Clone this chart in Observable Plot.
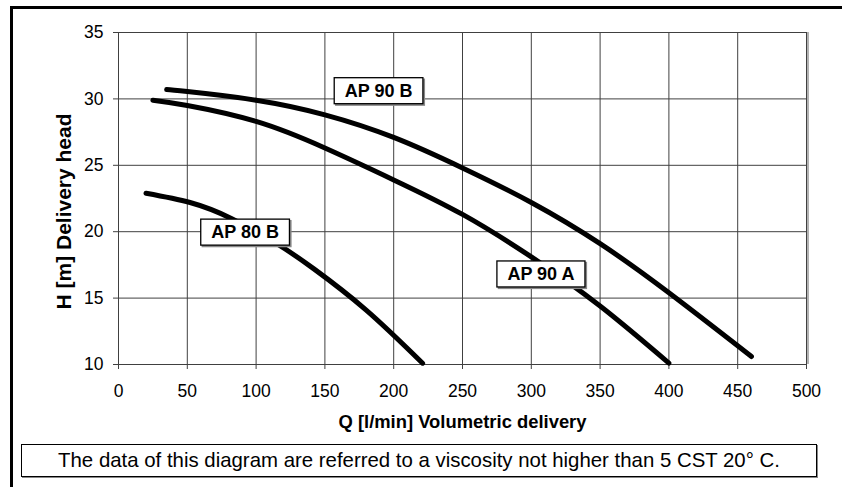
<!DOCTYPE html>
<html><head><meta charset="utf-8">
<script src="https://cdn.jsdelivr.net/npm/d3@7"></script>
<script src="https://cdn.jsdelivr.net/npm/@observablehq/plot@0.6"></script>
<style>
body{margin:0;background:#fff;font-family:"Liberation Sans",Arial,sans-serif;overflow:hidden;}
#chart{position:absolute;left:0;top:0;}
#frame{position:absolute;left:10px;top:6px;width:900px;height:600px;border-left:3px solid #000;border-top:3px solid #000;pointer-events:none;}
#caption{position:absolute;left:21px;top:444px;width:794px;height:31px;border:1px solid #000;box-shadow:1px 1px 0 #888;font-size:20.4px;text-align:center;line-height:31px;color:#000;background:#fff;white-space:nowrap;}
</style></head><body>
<div id="chart"></div>
<div id="frame"></div>
<div id="caption">The data of this diagram are referred to a viscosity not higher than 5 CST 20° C.</div>
<script>
// Series: Q [l/min] vs H [m]
const qAP80B = [20, 52, 82, 115, 142, 180, 221];
const hAP80B = [22.9, 22.2, 21.0, 19.1, 17.2, 14.1, 10.1];
const qAP90A = [25, 50, 100, 150, 200, 250, 300, 350, 400];
const hAP90A = [29.9, 29.5, 28.3, 26.3, 23.9, 21.3, 18.1, 14.4, 10.1];
const qAP90B = [35, 50, 100, 150, 200, 250, 300, 350, 400, 460];
const hAP90B = [30.7, 30.55, 29.9, 28.8, 27.1, 24.8, 22.2, 19.1, 15.4, 10.6];
const seriesNames = ["AP 80 B", "AP 90 A", "AP 90 B"];
const labelQ = [92, 307, 189];
const labelH = [19.95, 16.8, 30.6];
const xTicks = [0, 50, 100, 150, 200, 250, 300, 350, 400, 450, 500];
const yTicks = [10, 15, 20, 25, 30, 35];
const xLabel = "Q [l/min] Volumetric delivery";
const yLabel = "H [m] Delivery head";

const table = [];
[[qAP80B, hAP80B], [qAP90A, hAP90A], [qAP90B, hAP90B]].forEach(([qs, hs], i) => {
  qs.forEach((q, j) => table.push({name: seriesNames[i], q, h: hs[j]}));
});
const labels = seriesNames.map((n, i) => ({name: n, q: labelQ[i], h: labelH[i]}));

const font = "Liberation Sans, Arial, sans-serif";
const plot = Plot.plot({
  width: 842,
  height: 440,
  marginLeft: 118,
  marginRight: 36,
  marginTop: 32,
  marginBottom: 76,
  style: {fontFamily: font, color: "#000", background: "transparent"},
  x: {domain: [0, 500]},
  y: {domain: [10, 35]},
  marks: [
    Plot.ruleX([500], {stroke: "#999", strokeWidth: 1.5, dx: 1.5}),
    Plot.gridX(xTicks, {stroke: "#404040", strokeOpacity: 1, strokeWidth: 1}),
    Plot.gridY(yTicks, {stroke: "#404040", strokeOpacity: 1, strokeWidth: 1}),
    Plot.axisX(xTicks, {tickSize: 5, tickPadding: 15, fontSize: 17.5, label: null, stroke: "#404040"}),
    Plot.axisY(yTicks, {tickSize: 5, tickPadding: 10, fontSize: 17.5, label: null, stroke: "#404040"}),
    Plot.line(table, {x: "q", y: "h", z: "name", stroke: "#000", strokeWidth: 5, strokeLinecap: "round", curve: "natural"}),
    Plot.text(labels, {x: "q", y: "h", text: "name", fontSize: 18, fontWeight: "bold", fill: "#000", className: "aplabel"}),
    Plot.text([xLabel], {frameAnchor: "bottom", dy: 58, textAnchor: "middle", lineAnchor: "middle", fontSize: 18.4, fontWeight: "bold", fill: "#000"}),
    Plot.text([yLabel], {frameAnchor: "left", dx: -54, dy: 13, rotate: -90, textAnchor: "middle", lineAnchor: "middle", fontSize: 21, fontWeight: "bold", fill: "#000"})
  ]
});
document.getElementById("chart").appendChild(plot);

// Draw boxes behind the curve labels
d3.select(plot).selectAll("g.aplabel text").each(function() {
  const b = this.getBBox();
  const padX = 10.5, padY = 4;
  const g = this.parentNode;
  const tr = this.getAttribute("transform");
  const shadow = document.createElementNS("http://www.w3.org/2000/svg", "rect");
  const rect = document.createElementNS("http://www.w3.org/2000/svg", "rect");
  for (const [r, off, fill, stroke] of [[shadow, 1.5, "#888", "#888"], [rect, 0, "#fff", "#000"]]) {
    r.setAttribute("x", b.x - padX + off);
    r.setAttribute("y", b.y - padY + 1 + off);
    r.setAttribute("width", b.width + 2 * padX);
    r.setAttribute("height", b.height + 2 * padY - 2);
    r.setAttribute("fill", fill);
    r.setAttribute("stroke", stroke);
    r.setAttribute("stroke-width", 1.3);
    if (tr) r.setAttribute("transform", tr);
    g.insertBefore(r, this);
  }
});
</script>
</body></html>
